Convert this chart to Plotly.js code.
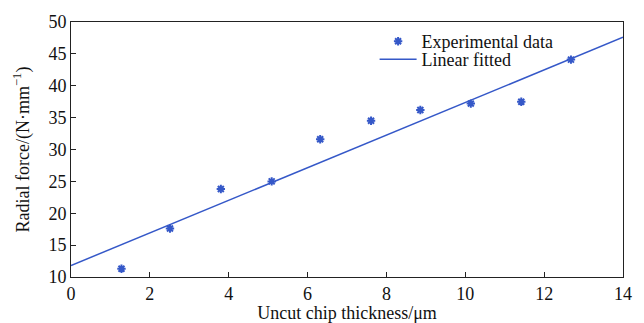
<!DOCTYPE html>
<html>
<head>
<meta charset="utf-8">
<script src="https://cdn.plot.ly/plotly-3.0.1.min.js"></script>
<style>html,body{margin:0;padding:0;background:#fff;}#chart{width:644px;height:323px;}</style>
</head>
<body>
<div id="chart"></div>
<script>
var thickness = [1.28, 2.51, 3.80, 5.09, 6.32, 7.61, 8.86, 10.14, 11.42, 12.68];
var radialForce = [11.3, 17.6, 23.8, 25.0, 31.6, 34.5, 36.2, 37.2, 37.5, 44.1];
var fitX = [0, 14];
var fitY = [11.8, 47.6];
var xTicks = [0, 2, 4, 6, 8, 10, 12, 14];
var yTicks = [10, 15, 20, 25, 30, 35, 40, 45, 50];

var font = {family: 'Liberation Serif, Times New Roman, serif', size: 18, color: '#111'};
var blue = '#3558c8';

var traces = [
  {x: thickness, y: radialForce, mode: 'markers', type: 'scatter', name: 'Experimental data',
   legend: 'legend',
   marker: {symbol: 'asterisk-open', size: 7, color: blue, line: {color: blue, width: 2}}},
  {x: fitX, y: fitY, mode: 'lines', type: 'scatter', name: 'Linear fitted',
   legend: 'legend2',
   line: {color: blue, width: 1.5}}
];

var legendBase = {xanchor: 'left', yanchor: 'top', bgcolor: 'rgba(0,0,0,0)', font: font, itemwidth: 37};

var layout = {
  width: 644, height: 323,
  margin: {l: 71, r: 21, t: 22, b: 46},
  paper_bgcolor: '#fff', plot_bgcolor: '#fff',
  font: font,
  showlegend: true,
  legend: Object.assign({x: 0.55, y: 0.996}, legendBase),
  legend2: Object.assign({x: 0.55, y: 0.925}, legendBase),
  xaxis: {range: [0, 14], tickvals: xTicks, ticks: 'inside', ticklen: 5, tickcolor: '#222',
          showline: true, linecolor: '#222', linewidth: 1, mirror: true, showgrid: false, zeroline: false,
          tickfont: font,
          title: {text: 'Uncut chip thickness/μm', font: font, standoff: 2}},
  yaxis: {range: [10, 50], tickvals: yTicks, ticks: 'inside', ticklen: 5, tickcolor: '#222',
          showline: true, linecolor: '#222', linewidth: 1, mirror: true, showgrid: false, zeroline: false,
          tickfont: font,
          title: {text: 'Radial force/(N·mm<sup>−1</sup>)', font: font, standoff: 14}}
};

Plotly.newPlot('chart', traces, layout, {staticPlot: true});
</script>
</body>
</html>
